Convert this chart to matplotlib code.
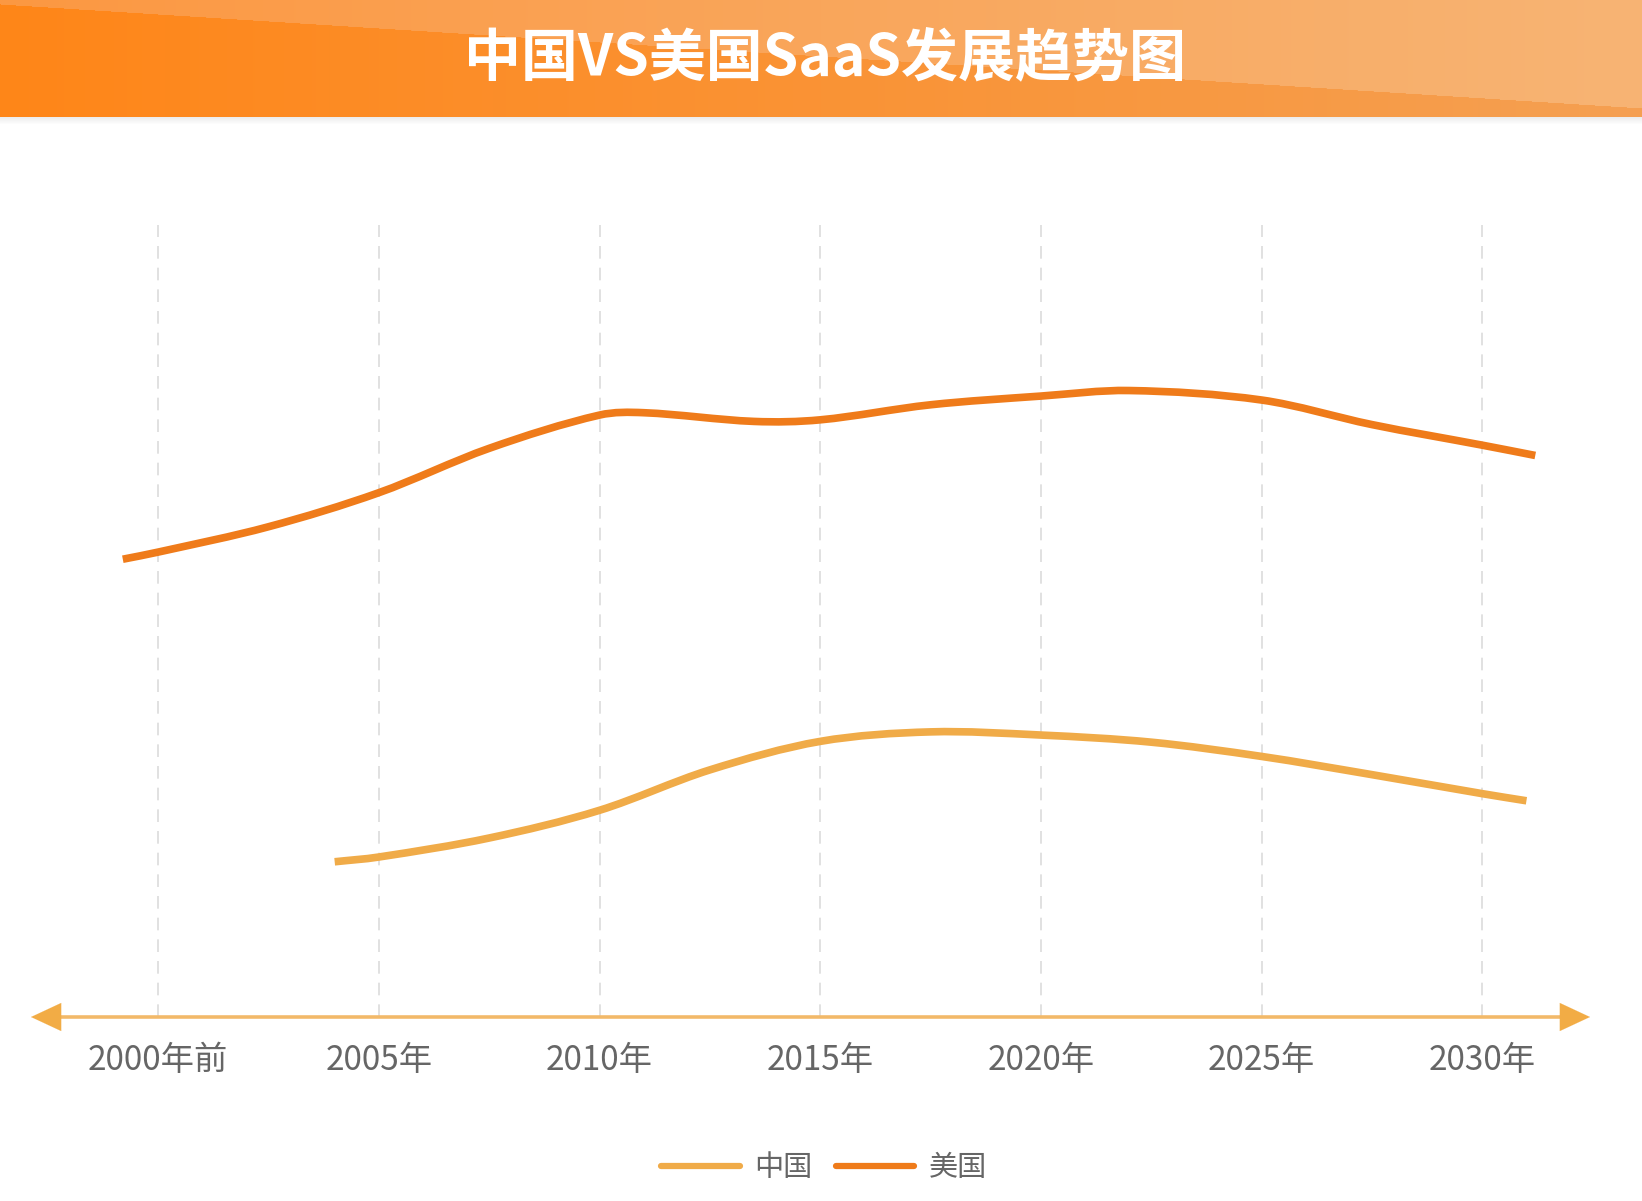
import numpy as np
import matplotlib
matplotlib.use("Agg")
import matplotlib.pyplot as plt
from matplotlib.path import Path
from matplotlib.patches import PathPatch
from matplotlib.lines import Line2D

plt.rcParams['font.family'] = ['Noto Sans CJK SC', 'DejaVu Sans']

# ---------------- data ----------------
title = "中国VS美国SaaS发展趋势图"
tick_years = [2000, 2005, 2010, 2015, 2020, 2025, 2030]
tick_labels = ["2000年前", "2005年", "2010年", "2015年", "2020年", "2025年", "2030年"]

us_name = "美国"
us_years = [1999.2, 2000, 2002.5, 2005, 2007.5, 2010, 2011, 2013.5, 2015,
            2017.5, 2020, 2022, 2025, 2027.5, 2030, 2031.2]
us_values = [57.8, 58.7, 61.9, 66.2, 71.8, 76.0, 76.3, 75.2, 75.4,
             77.3, 78.4, 79.1, 77.9, 74.8, 72.2, 70.9]

cn_name = "中国"
cn_years = [2004.0, 2005, 2007.5, 2010, 2012.5, 2015, 2017.5, 2020,
            2022.5, 2025, 2027.5, 2030, 2031.0]
cn_values = [19.6, 20.2, 22.6, 26.1, 31.2, 34.8, 36.0, 35.6,
             34.7, 32.9, 30.6, 28.2, 27.3]

US_COLOR = '#EF7B1A'
CN_COLOR = '#F0AB48'


def smooth_path(xs, ys):
    """Cubic Hermite curve through the points, drawn as Bezier segments."""
    x = np.asarray(xs, float)
    y = np.asarray(ys, float)
    n = len(x)
    m = np.zeros(n)
    m[0] = (y[1] - y[0]) / (x[1] - x[0])
    m[-1] = (y[-1] - y[-2]) / (x[-1] - x[-2])
    for i in range(1, n - 1):
        m[i] = (y[i + 1] - y[i - 1]) / (x[i + 1] - x[i - 1])
    verts = [(x[0], y[0])]
    codes = [Path.MOVETO]
    for i in range(n - 1):
        dx = x[i + 1] - x[i]
        c1 = (x[i] + dx / 3, y[i] + m[i] * dx / 3)
        c2 = (x[i + 1] - dx / 3, y[i + 1] - m[i + 1] * dx / 3)
        verts += [c1, c2, (x[i + 1], y[i + 1])]
        codes += [Path.CURVE4] * 3
    return Path(verts, codes)


W, H = 1642, 1201
fig = plt.figure(figsize=(W / 100, H / 100), dpi=100)
fig.patch.set_facecolor('white')

# ---------------- title bar ----------------
bar_h = 117
tax = fig.add_axes([0, (H - bar_h) / H, 1, bar_h / H])
xx = np.linspace(0, 1, W)[None, :]
yy = np.arange(bar_h)[:, None]
c_left = np.array([255, 134, 24]) / 255
c_right = np.array([245, 160, 82]) / 255
l_left = np.array([252, 152, 66]) / 255
l_right = np.array([247, 180, 116]) / 255
base = c_left[None, None, :] * (1 - xx[..., None]) + c_right[None, None, :] * xx[..., None]
light = l_left[None, None, :] * (1 - xx[..., None]) + l_right[None, None, :] * xx[..., None]
diag = 4 + 104 * xx  # boundary y (pixels from top) along x
mask = (yy < diag)[..., None]
img = np.where(mask, light, base)
tax.imshow(img, aspect='auto', extent=[0, 1, 0, 1], interpolation='bilinear')
tax.set_axis_off()
tax.text(825 / W, 1 - 58 / bar_h, title, transform=tax.transAxes, ha='center', va='center',
         color='white', fontsize=41, fontweight='bold')

# soft shadow under the bar
sax = fig.add_axes([0, (H - bar_h - 8) / H, 1, 8 / H])
shade = np.linspace(0.93, 1.0, 8)[:, None, None] * np.ones((1, 2, 3))
sax.imshow(shade, aspect='auto', extent=[0, 1, 0, 1], interpolation='bilinear', vmin=0, vmax=1)
sax.set_axis_off()

# ---------------- main axes ----------------
left_px, right_px = 31, 1590
top_px, bot_px = 225, 1017
ax = fig.add_axes([left_px / W, (H - bot_px) / H, (right_px - left_px) / W, (bot_px - top_px) / H])
ax.set_xlim(1997.12, 2032.44)
ax.set_ylim(0, 100)
ax.set_facecolor('none')
for s in ax.spines.values():
    s.set_visible(False)
ax.set_yticks([])
ax.set_xticks(tick_years)
ax.set_xticklabels(tick_labels)
ax.tick_params(axis='x', length=0, pad=19, labelsize=24, labelcolor='#666666')
ax.grid(axis='x', color='#DEDEDE', linewidth=1.3, linestyle=(0, (7, 5)))
ax.set_axisbelow(True)

# axis arrow
ax.annotate('', xy=(1, 0), xytext=(0, 0), xycoords='axes fraction',
            arrowprops=dict(arrowstyle='<|-|>,head_length=0.6,head_width=0.28',
                            mutation_scale=36, color='#F2AC45', lw=0.1,
                            shrinkA=0, shrinkB=0), annotation_clip=False)
ax.plot([1997.8, 2031.8], [0, 0], color='#F3BA6C', lw=2.6, solid_capstyle='butt',
        clip_on=False, zorder=2)

# series
ax.add_patch(PathPatch(smooth_path(cn_years, cn_values), fill=False, edgecolor=CN_COLOR,
                       lw=5.5, capstyle='butt', joinstyle='round', zorder=3))
ax.add_patch(PathPatch(smooth_path(us_years, us_values), fill=False, edgecolor=US_COLOR,
                       lw=5.5, capstyle='butt', joinstyle='round', zorder=3))

# legend
handles = [Line2D([], [], color=CN_COLOR, lw=4.5, solid_capstyle='round'),
           Line2D([], [], color=US_COLOR, lw=4.5, solid_capstyle='round')]
fig.legend(handles, [cn_name, us_name], loc='center', ncol=2, frameon=False,
           bbox_to_anchor=(824 / W, (H - 1168) / H), fontsize=21, labelcolor='#666666',
           handlelength=2.7, handletextpad=0.5, columnspacing=0.8)

fig.savefig('out.png', dpi=100, facecolor='white')
